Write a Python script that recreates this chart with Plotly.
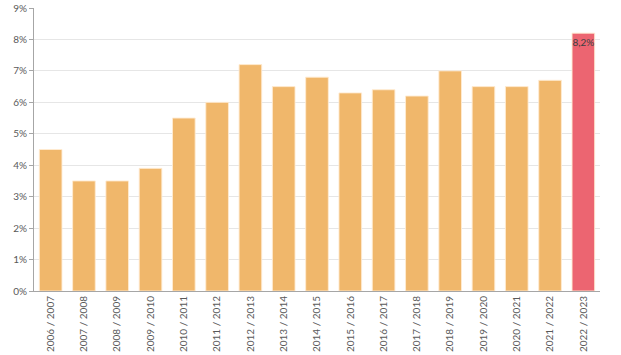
import plotly.graph_objects as go

categories = ["2006 / 2007", "2007 / 2008", "2008 / 2009", "2009 / 2010", "2010 / 2011",
              "2011 / 2012", "2012 / 2013", "2013 / 2014", "2014 / 2015", "2015 / 2016",
              "2016 / 2017", "2017 / 2018", "2018 / 2019", "2019 / 2020", "2020 / 2021",
              "2021 / 2022", "2022 / 2023"]
values = [4.5, 3.5, 3.5, 3.9, 5.5, 6.0, 7.2, 6.5, 6.8, 6.3, 6.4, 6.2, 7.0, 6.5, 6.5, 6.7, 8.2]
labels = [""] * 16 + ["8,2%"]
y_ticks = [0, 1, 2, 3, 4, 5, 6, 7, 8, 9]
y_tick_labels = [f"{v}%" for v in y_ticks]

colors = ["#F0B76B"] * 16 + ["#EC6571"]

fig = go.Figure(go.Bar(
    x=categories, y=values,
    marker=dict(color=colors, line=dict(color="rgba(255,235,210,0.9)", width=1)),
    text=labels, textposition="inside", insidetextanchor="end", textangle=0,
    textfont=dict(color="#404040", size=10, family="Lato"),
    width=0.68,
))

fig.update_layout(
    width=621, height=355,
    margin=dict(l=34, r=21, t=8, b=64),
    paper_bgcolor="white", plot_bgcolor="white",
    font=dict(family="Lato", size=10, color="#595959"),
    showlegend=False,
    bargap=0.32,
    uniformtext=dict(minsize=10, mode="show"),
)
fig.update_xaxes(
    type="category", tickangle=-90, showline=True, linecolor="#A6A6A6", linewidth=1,
    ticks="", showgrid=False, tickfont=dict(size=10, color="#595959"), automargin=False,
)
fig.update_yaxes(
    range=[0, 9], tickvals=y_ticks, ticktext=y_tick_labels,
    showline=True, linecolor="#A6A6A6", linewidth=1,
    ticks="outside", ticklen=4, tickcolor="#A6A6A6",
    showgrid=True, gridcolor="#E6E6E6", gridwidth=1,
    zeroline=False, tickfont=dict(size=10, color="#595959"), automargin=False,
)

fig.write_html("out.html")
